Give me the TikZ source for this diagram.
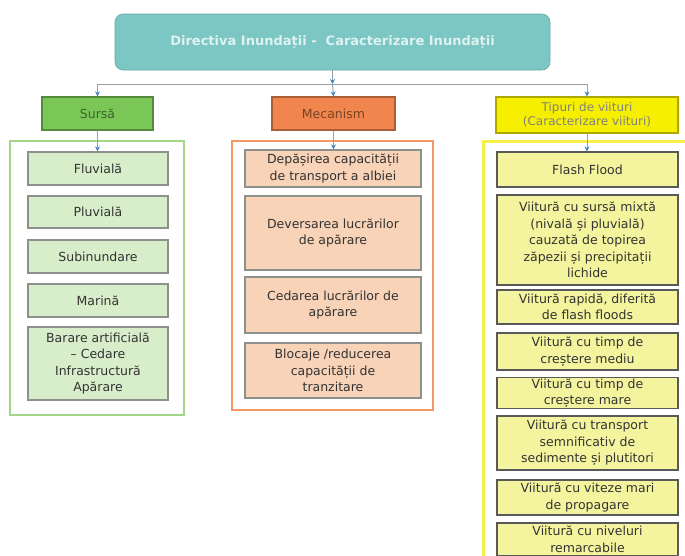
\documentclass[tikz,border=0pt]{standalone}
\usepackage{fontspec}
\setmainfont{DejaVu Sans}
\usetikzlibrary{arrows.meta}
\definecolor{rootfill}{RGB}{124,198,196}
\definecolor{roottext}{RGB}{222,242,240}
\definecolor{srchead}{RGB}{122,199,88}
\definecolor{mechead}{RGB}{240,134,78}
\definecolor{tiphead}{RGB}{246,240,0}
\definecolor{srcfill}{RGB}{216,238,202}
\definecolor{mecfill}{RGB}{248,211,184}
\definecolor{tipfill}{RGB}{245,244,158}
\definecolor{srcframe}{RGB}{165,214,135}
\definecolor{mecframe}{RGB}{242,152,102}
\definecolor{tipframe}{RGB}{246,240,70}
\definecolor{itemline}{RGB}{140,145,140}
\definecolor{linkgray}{RGB}{150,160,165}
\definecolor{tipblue}{RGB}{70,130,190}

\begin{document}
\begin{tikzpicture}[x=1pt, y=-1pt,
    every node/.style={font=\fontsize{12.5}{16.5}\selectfont, align=center, inner sep=1pt},
    headbox/.style={draw=#1!70!black, fill=#1, line width=1.2pt, minimum height=33pt},
    frame/.style={draw=#1, line width=2pt},
    item/.style={draw=itemline, fill=#1, line width=1.2pt, text=black!80},
    link/.style={draw=linkgray, line width=1pt, -{Stealth[length=5pt, width=5pt, color=tipblue]}}]
  \clip (0,0) rectangle (685,555);

  % top box
  \node[draw=rootfill!85!black, fill=rootfill, rounded corners=8pt, line width=0.6pt,
        minimum width=435pt, minimum height=56pt, text=roottext,
        font=\fontsize{13}{15}\selectfont\bfseries] (root) at (332.5,42)
       {Directiva Inundații -\ \ Caracterizare Inundații};

  % headers
  \node[headbox=srchead, minimum width=111pt, text=srchead!50!black] (sursa) at (97.5,113.5) {Sursă};
  \node[headbox=mechead, minimum width=123pt, text=mechead!50!black] (mecan) at (333.5,113.5) {Mecanism};
  \node[headbox=tiphead, minimum width=182pt, minimum height=36pt, text=black!50,
        font=\fontsize{12}{14}\selectfont] (tipuri) at (587,115)
       {Tipuri de viituri\\(Caracterizare viituri)};

  % frames
  \node[frame=srcframe, minimum width=174pt, minimum height=274pt] (srcbox) at (97,278) {};
  \node[frame=mecframe, minimum width=201pt, minimum height=269pt] (mecbox) at (332.5,275.5) {};
  \node[frame=tipframe, line width=3pt, minimum width=207pt, minimum height=419pt] (tipbox) at (586.5,350.5) {};

  % Sursa column
  \foreach \nm/\yc/\h/\txt in {fluv/168.5/33/Fluvială, pluv/212/32/Pluvială,
      subin/256.5/33/Subinundare, marin/300.5/33/Marină,
      barare/363.5/73/{Barare artificială\\– Cedare\\Infrastructură\\Apărare}}
    \node[item=srcfill, minimum width=140pt, minimum height=\h pt] (\nm) at (98,\yc) {\txt};

  % Mecanism column
  \foreach \nm/\yc/\h/\txt in {dep/168.5/37/{Depășirea capacității\\de transport a albiei},
      dev/233/74/{Deversarea lucrărilor\\de apărare},
      ced/305/56/{Cedarea lucrărilor de\\apărare},
      bloc/370.5/55/{Blocaje /reducerea\\capacității de\\tranzitare}}
    \node[item=mecfill, minimum width=176pt, minimum height=\h pt] (\nm) at (333,\yc) {\txt};

  % Tipuri column
  \foreach \nm/\yc/\h/\txt in {flash/169.5/35/Flash Flood,
      mixt/240/90/{Viitură cu sursă mixtă\\(nivală și pluvială)\\cauzată de topirea\\zăpezii și precipitații\\lichide},
      rapid/307/34/{Viitură rapidă, diferită\\de flash floods},
      mediu/351.5/37/{Viitură cu timp de\\creștere mediu},
      mare/393/30/{Viitură cu timp de\\creștere mare},
      sedim/443/54/{Viitură cu transport\\semnificativ de\\sedimente și plutitori},
      vitez/497.5/35/{Viitură cu viteze mari\\de propagare},
      nivel/539.5/33/{Viitură cu niveluri\\remarcabile}}
    \node[item=tipfill, draw=black!65, minimum width=181pt, minimum height=\h pt] (\nm) at (587.5,\yc) {\txt};

  % connectors
  \coordinate (split) at (332.5,84);
  \coordinate (splitL) at (97.5,84);
  \coordinate (splitR) at (587,84);
  \draw[linkgray, line width=1pt] (splitL) -- (splitR);
  \draw[link] (root.south) -- (split);
  \draw[link] (splitL) -- (sursa.north);
  \draw[link] (split) -- (mecan.north);
  \draw[link] (splitR) -- (tipuri.north);
  \draw[link] (sursa.south) -- (sursa.south |- fluv.north);
  \draw[link] (mecan.south) -- (mecan.south |- dep.north);
  \draw[link] (tipuri.south) -- (tipuri.south |- flash.north);
\end{tikzpicture}
\end{document}
